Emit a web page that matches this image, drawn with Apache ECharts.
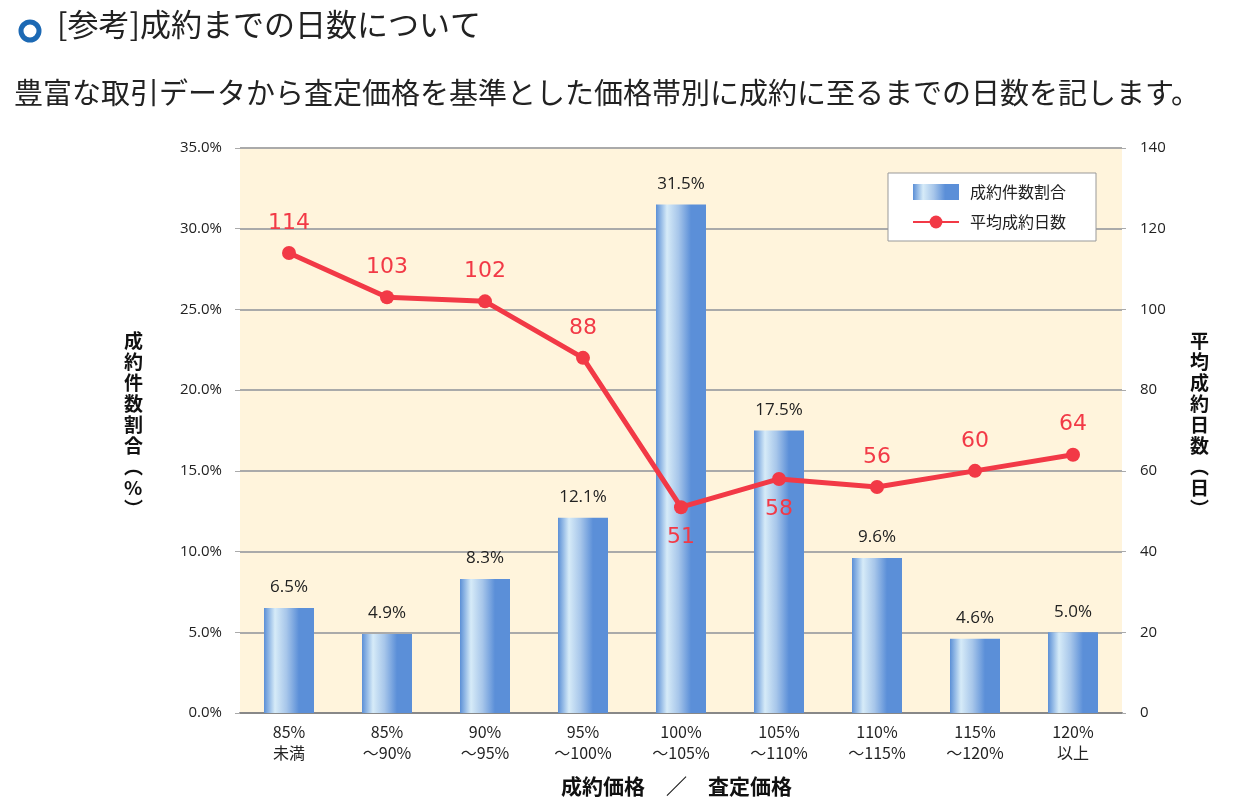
<!DOCTYPE html>
<html><head><meta charset="utf-8">
<script src="https://cdn.jsdelivr.net/npm/echarts@6/dist/echarts.min.js"></script>
<style>html,body{margin:0;padding:0;background:#fff}#c{width:1260px;height:810px}</style>
</head><body><div id="c"></div>
<script>
const categories = ['85%\n未満','85%\n～90%','90%\n～95%','95%\n～100%','100%\n～105%','105%\n～110%','110%\n～115%','115%\n～120%','120%\n以上'];
const shareValues = [6.5, 4.9, 8.3, 12.1, 31.5, 17.5, 9.6, 4.6, 5.0];
const daysValues = [114, 103, 102, 88, 51, 58, 56, 60, 64];
const labelBelow = [false, false, false, false, true, true, false, false, false];
const FONT = '"Noto Sans CJK JP","Noto Sans",sans-serif';
const NUMFONT = '"Open Sans","Noto Sans",sans-serif';

const chart = echarts.init(document.getElementById('c'));
const barGrad = new echarts.graphic.LinearGradient(0,0,1,0,[
  {offset:0,color:'#5b8fd6'},{offset:0.22,color:'#d6ebf8'},{offset:0.45,color:'#a7c6ea'},{offset:0.7,color:'#5b8fd8'},{offset:1,color:'#5b8fd8'}]);

chart.setOption({
  animation:false,
  textStyle:{fontFamily:FONT},
  graphic:[
    {type:'circle',shape:{cx:30,cy:31,r:9},style:{fill:'none',stroke:'#1c69b4',lineWidth:5}},
    {type:'text',left:57,top:9,style:{text:'[参考]成約までの日数について',font:'31px '+FONT,fill:'#222'}},
    {type:'text',left:14,top:78,style:{text:'豊富な取引データから査定価格を基準とした価格帯別に成約に至るまでの日数を記します。',font:'29px '+FONT,fill:'#222'}},
    {type:'text',left:124,top:330,style:{text:'成\n約\n件\n数\n割\n合\n︵\n%\n︶',font:'bold 19px '+FONT,fill:'#111',lineHeight:21,align:'left'}},
    {type:'text',left:1190,top:330,style:{text:'平\n均\n成\n約\n日\n数\n︵\n日\n︶',font:'bold 19px '+FONT,fill:'#111',lineHeight:21,align:'left'}},
    {type:'text',left:561,top:776,style:{text:'成約価格　／　査定価格',font:'bold 21px '+FONT,fill:'#111'}}
  ],
  legend:{
    left:888,top:173,orient:'vertical',backgroundColor:'#fff',borderColor:'#999',borderWidth:1,
    padding:[11,30,11,24],itemGap:14,itemWidth:46,itemHeight:16,
    textStyle:{fontSize:16,color:'#222',fontFamily:FONT,padding:[0,0,0,6]},
    data:[{name:'成約件数割合',icon:'rect',itemStyle:{color:barGrad}},{name:'平均成約日数'}]
  },
  grid:{left:240,right:138,top:148,bottom:97,show:true,backgroundColor:'#fff4dc',borderWidth:0},
  xAxis:{type:'category',data:categories,
    axisLine:{lineStyle:{color:'#888',width:2}},axisTick:{show:false},
    axisLabel:{fontSize:16,color:'#222',lineHeight:21,margin:8,fontFamily:FONT}},
  yAxis:[
    {type:'value',min:0,max:35,interval:5,
     axisLabel:{formatter:v=>v.toFixed(1)+'%',fontSize:15,color:'#222',margin:18,fontFamily:NUMFONT},
     axisLine:{show:false},axisTick:{show:true,length:5,lineStyle:{color:'#aaa'}},
     splitLine:{lineStyle:{color:'#aaa',width:2}}},
    {type:'value',min:0,max:140,interval:20,
     axisLabel:{fontSize:15,color:'#222',margin:18,fontFamily:NUMFONT},
     axisLine:{show:false},axisTick:{show:true,length:4,lineStyle:{color:'#aaa'}},
     splitLine:{show:false}}
  ],
  series:[
    {name:'成約件数割合',type:'bar',data:shareValues,barWidth:50,yAxisIndex:0,
     itemStyle:{color:barGrad},
     label:{show:true,position:'top',distance:12,formatter:p=>p.value.toFixed(1)+'%',fontSize:17,color:'#222',fontFamily:NUMFONT}},
    {name:'平均成約日数',type:'line',yAxisIndex:1,
     data:daysValues.map((v,i)=>({value:v,label:{position:labelBelow[i]?'bottom':'top'}})),
     symbol:'circle',symbolSize:14,
     lineStyle:{color:'#f23946',width:5},itemStyle:{color:'#f23946'},
     label:{show:true,fontSize:22,color:'#f23946',distance:12,fontFamily:'"DejaVu Sans",sans-serif'}}
  ]
});
</script></body></html>
